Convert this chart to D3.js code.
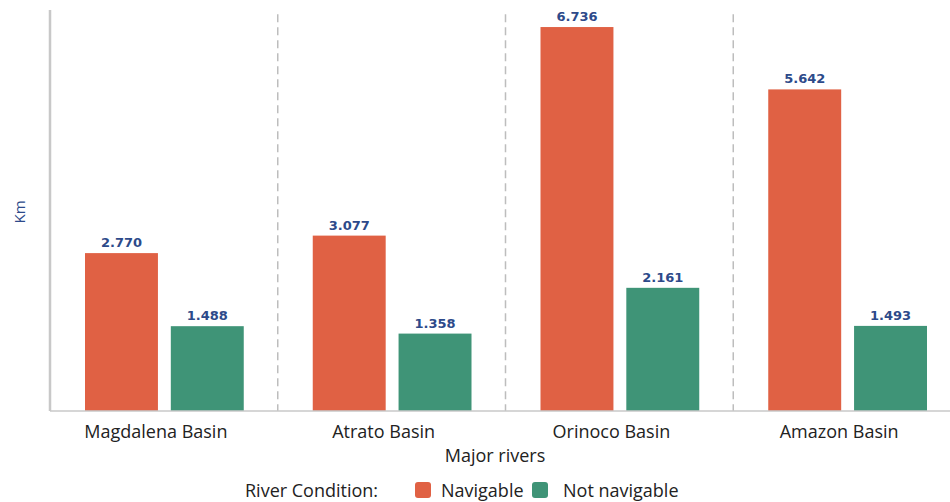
<!DOCTYPE html>
<html>
<head>
<meta charset="utf-8">
<script src="https://cdn.jsdelivr.net/npm/d3@7"></script>
<style>
  html, body { margin: 0; padding: 0; background: #fff; }
  svg { display: block; }
</style>
</head>
<body>
<svg id="chart" width="950" height="502"></svg>
<script>
// River lengths (thousand km) by basin and navigability
const basins = ["Magdalena Basin", "Atrato Basin", "Orinoco Basin", "Amazon Basin"];
const conditions = ["Navigable", "Not navigable"];
const navigable = [2.770, 3.077, 6.736, 5.642];
const notNavigable = [1.488, 1.358, 2.161, 1.493];
const valueLabels = [["2.770", "1.488"], ["3.077", "1.358"], ["6.736", "2.161"], ["5.642", "1.493"]];

const colors = ["#e06144", "#3f9477"];

const svg = d3.select("#chart");
const margin = { left: 50, top: 10, bottom: 411 };
const plotRight = 961;

const x = d3.scaleBand().domain(basins).range([margin.left, plotRight]).paddingInner(0).paddingOuter(0);
const inner = d3.scaleBand().domain(conditions).range([35, x.bandwidth() - 34]).paddingInner(0.15);
const y = d3.scaleLinear().domain([0, 7.035]).range([margin.bottom, margin.top]);

const data = basins.map((b, i) => ({
  basin: b,
  values: [
    { cond: conditions[0], v: navigable[i], label: valueLabels[i][0] },
    { cond: conditions[1], v: notNavigable[i], label: valueLabels[i][1] }
  ]
}));

// Dashed separators between basins
svg.append("g").selectAll("line")
  .data(basins.slice(1))
  .join("line")
  .attr("x1", d => x(d)).attr("x2", d => x(d))
  .attr("y1", y(6.96)).attr("y2", margin.bottom)
  .attr("stroke", "#bdbdbd").attr("stroke-width", 1.5)
  .attr("stroke-dasharray", "8,5");

// Bars
const groups = svg.append("g").selectAll("g")
  .data(data)
  .join("g")
  .attr("transform", d => `translate(${x(d.basin)},0)`);

groups.selectAll("rect")
  .data(d => d.values)
  .join("rect")
  .attr("x", d => inner(d.cond))
  .attr("width", inner.bandwidth())
  .attr("y", d => y(d.v))
  .attr("height", d => y(0) - y(d.v))
  .attr("fill", (d, i) => colors[i]);

groups.selectAll("text")
  .data(d => d.values)
  .join("text")
  .attr("x", d => inner(d.cond) + inner.bandwidth() / 2)
  .attr("y", d => y(d.v) - 6)
  .attr("text-anchor", "middle")
  .attr("font-family", "DejaVu Sans")
  .attr("font-weight", "bold")
  .attr("font-size", 13)
  .attr("fill", "#2d4a8a")
  .text(d => d.label);

// Axes lines
svg.append("line")
  .attr("x1", margin.left).attr("x2", 950)
  .attr("y1", margin.bottom).attr("y2", margin.bottom)
  .attr("stroke", "#c8c8c8").attr("stroke-width", 1.5);
svg.append("line")
  .attr("x1", margin.left).attr("x2", margin.left)
  .attr("y1", margin.top).attr("y2", margin.bottom)
  .attr("stroke", "#c8c8c8").attr("stroke-width", 2.5);

// Category labels
const xAxis = svg.append("g")
  .attr("transform", `translate(0,${margin.bottom})`)
  .call(d3.axisBottom(x).tickSize(0).tickPadding(14));
xAxis.select(".domain").remove();
xAxis.selectAll("text")
  .attr("font-family", "Open Sans")
  .attr("font-size", 18)
  .attr("fill", "#222")
  .attr("dx", -8);

// Axis titles
svg.append("text")
  .attr("x", 495).attr("y", 462)
  .attr("text-anchor", "middle")
  .attr("font-family", "Open Sans").attr("font-size", 18).attr("fill", "#222")
  .text("Major rivers");

svg.append("text")
  .attr("transform", "translate(25,212) rotate(-90)")
  .attr("text-anchor", "middle")
  .attr("font-family", "Open Sans").attr("font-size", 15).attr("fill", "#2d4a8a")
  .text("Km");

// Legend
const legend = svg.append("g").attr("font-family", "Open Sans").attr("font-size", 18).attr("fill", "#222");
legend.append("text").attr("x", 245).attr("y", 497).text("River Condition:");
const legendX = [415, 532];
const legendTextX = [441, 563];
conditions.forEach((c, i) => {
  legend.append("rect")
    .attr("x", legendX[i]).attr("y", 482)
    .attr("width", 16).attr("height", 16).attr("rx", 3)
    .attr("fill", colors[i]);
  legend.append("text").attr("x", legendTextX[i]).attr("y", 497).text(c);
});
</script>
</body>
</html>
